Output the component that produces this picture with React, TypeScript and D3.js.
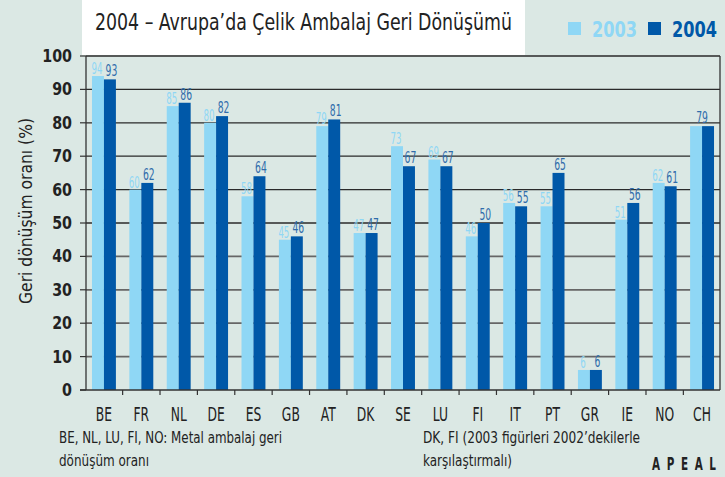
import React, { useEffect, useRef } from 'react';
import * as d3 from 'd3';

const countries = ['BE', 'FR', 'NL', 'DE', 'ES', 'GB', 'AT', 'DK', 'SE', 'LU', 'FI', 'IT', 'PT', 'GR', 'IE', 'NO', 'CH'];
const values2003 = [94, 60, 85, 80, 58, 45, 79, 47, 73, 69, 46, 56, 55, 6, 51, 62, 79];
const values2004 = [93, 62, 86, 82, 64, 46, 81, 47, 67, 67, 50, 55, 65, 6, 56, 61, 79];
const yTicks = [0, 10, 20, 30, 40, 50, 60, 70, 80, 90, 100];
// where both years coincide the printed chart shows a single centred label
const singleLabel = ['CH'];

const W = 725;
const H = 477;
const FONT = '"DejaVu Sans Condensed", "DejaVu Sans", sans-serif';
const LIGHT = '#8fd7f5';
const DARK = '#0058a8';
const BG = '#dbe8e4';

// squeeze text horizontally (the original uses a narrow typeface)
const condense = (sel: any, k: number) => {
  sel.each(function (this: SVGTextElement) {
    const len = this.getComputedTextLength();
    this.setAttribute('textLength', String(len * k));
    this.setAttribute('lengthAdjust', 'spacingAndGlyphs');
  });
};

const App = () => {
  const ref = useRef<SVGSVGElement>(null);

  useEffect(() => {
    document.body.style.margin = '0';
    const svg = d3.select(ref.current);
    svg.selectAll('*').remove();

    const left = 86, right = 720, top = 56, bottom = 390;

    // Get the axis scales.
    const x = d3.scaleBand().domain(countries).range([left, right]).paddingInner(0.36).paddingOuter(0.16);
    const y = d3.scaleLinear().domain([0, 100]).range([bottom, top]);
    const half = x.bandwidth() / 2;

    svg.append('rect').attr('width', W).attr('height', H).attr('fill', BG);

    // Title box
    svg.append('rect').attr('x', 82).attr('y', 0).attr('width', 443).attr('height', 55).attr('fill', '#fff');
    svg.append('text').attr('x', 95).attr('y', 30).attr('font-family', FONT).attr('font-size', 23)
      .attr('fill', '#222').attr('textLength', 417).attr('lengthAdjust', 'spacingAndGlyphs')
      .text('2004 – Avrupa’da Çelik Ambalaj Geri Dönüşümü');

    // Legend
    const legend = [
      { label: '2003', color: LIGHT, x: 568 },
      { label: '2004', color: DARK, x: 648 },
    ];
    legend.forEach((l) => {
      svg.append('rect').attr('x', l.x).attr('y', 22).attr('width', 13).attr('height', 13).attr('fill', l.color);
      svg.append('text').attr('x', l.x + 24).attr('y', 37).attr('font-family', FONT).attr('font-size', 21)
        .attr('font-weight', 'bold').attr('fill', l.color).attr('textLength', 45)
        .attr('lengthAdjust', 'spacingAndGlyphs').text(l.label);
    });

    // Gridlines
    svg.append('g').selectAll('line').data(yTicks.filter((t) => t > 0)).join('line')
      .attr('x1', left).attr('x2', right).attr('y1', (d) => y(d)).attr('y2', (d) => y(d))
      .attr('stroke', (d) => (d >= 50 ? '#2a2a2a' : '#666'))
      .attr('stroke-width', (d) => (d >= 50 ? 1.3 : 1.8));

    // Y axis tick marks & labels
    const yg = svg.append('g');
    yg.selectAll('line').data(yTicks).join('line')
      .attr('x1', left - 6).attr('x2', left).attr('y1', (d) => y(d)).attr('y2', (d) => y(d))
      .attr('stroke', '#333').attr('stroke-width', 1.2);
    const yl = yg.selectAll('text').data(yTicks).join('text')
      .attr('x', 72).attr('y', (d) => y(d) + 6).attr('text-anchor', 'end')
      .attr('font-family', FONT).attr('font-size', 18).attr('font-weight', 'bold').attr('fill', '#222')
      .text((d) => d);
    condense(yl, 0.88);

    svg.append('text').attr('transform', 'translate(32,211) rotate(-90)')
      .attr('text-anchor', 'middle').attr('font-family', FONT).attr('font-size', 18).attr('fill', '#222')
      .attr('textLength', 186).attr('lengthAdjust', 'spacingAndGlyphs')
      .text('Geri dönüşüm oranı (%)');

    // Bars
    const groups = svg.append('g').selectAll('g').data(countries).join('g');
    groups.append('rect')
      .attr('x', (d) => x(d)!).attr('width', half)
      .attr('y', (_, i) => y(values2003[i])).attr('height', (_, i) => bottom - y(values2003[i]))
      .attr('fill', LIGHT);
    groups.append('rect')
      .attr('x', (d) => x(d)! + half).attr('width', half)
      .attr('y', (_, i) => y(values2004[i])).attr('height', (_, i) => bottom - y(values2004[i]))
      .attr('fill', DARK);

    // Value labels
    const l3 = groups.filter((d) => !singleLabel.includes(d)).append('text')
      .attr('x', (d) => x(d)! + half / 2 - 1).attr('y', (_, i) => y(values2003[i]) - 2)
      .attr('text-anchor', 'middle').attr('font-family', FONT).attr('font-size', 16).attr('fill', LIGHT)
      .text((_, i) => values2003[i]);
    condense(l3, 0.6);
    const l4 = groups.append('text')
      .attr('x', (d) => (singleLabel.includes(d) ? x(d)! + half : x(d)! + half * 1.5 + 1.5))
      .attr('y', (_, i) => y(values2004[i]) - 3)
      .attr('text-anchor', 'middle').attr('font-family', FONT).attr('font-size', 16).attr('fill', '#2f6cab')
      .text((_, i) => values2004[i]);
    condense(l4, 0.64);

    // Frame: left axis, bottom axis, right edge
    svg.append('line').attr('x1', left).attr('x2', left).attr('y1', top).attr('y2', bottom)
      .attr('stroke', '#333').attr('stroke-width', 1.3);
    svg.append('line').attr('x1', right).attr('x2', right).attr('y1', top).attr('y2', bottom)
      .attr('stroke', '#333').attr('stroke-width', 1.3);
    svg.append('line').attr('x1', left - 6).attr('x2', right).attr('y1', bottom).attr('y2', bottom)
      .attr('stroke', '#333').attr('stroke-width', 1.3);
    const step = x.step();
    svg.append('g').selectAll('line').data(countries.slice(1)).join('line')
      .attr('x1', (d) => x(d)! - (step - x.bandwidth()) / 2).attr('x2', (d) => x(d)! - (step - x.bandwidth()) / 2)
      .attr('y1', bottom).attr('y2', bottom + 5).attr('stroke', '#333').attr('stroke-width', 1.2);

    // Category labels
    const cl = svg.append('g').selectAll('text').data(countries).join('text')
      .attr('x', (d) => x(d)! + half).attr('y', 421).attr('text-anchor', 'middle')
      .attr('font-family', FONT).attr('font-size', 19).attr('fill', '#222').text((d) => d);
    condense(cl, 0.72);

    // Footnotes
    const notes = [
      { x: 59, y: 443, w: 223, t: 'BE, NL, LU, FI, NO: Metal ambalaj geri' },
      { x: 59, y: 466, w: 90, t: 'dönüşüm oranı' },
      { x: 423, y: 443, w: 217, t: 'DK, FI (2003 figürleri 2002’dekilerle' },
      { x: 423, y: 466, w: 89, t: 'karşılaştırmalı)' },
    ];
    svg.append('g').selectAll('text').data(notes).join('text')
      .attr('x', (d) => d.x).attr('y', (d) => d.y).attr('font-family', FONT).attr('font-size', 16)
      .attr('textLength', (d) => d.w).attr('lengthAdjust', 'spacingAndGlyphs')
      .attr('fill', '#222').text((d) => d.t);

    // Source, narrow letters widely spaced
    svg.append('text').attr('transform', 'translate(652,470) scale(0.68,1)')
      .attr('font-family', FONT).attr('font-size', 17).attr('font-weight', 'bold')
      .attr('textLength', 94).attr('lengthAdjust', 'spacing').attr('fill', '#222').text('APEAL');
  }, []);

  return <svg ref={ref} width={W} height={H} style={{ display: 'block' }}></svg>;
};

export default App;
